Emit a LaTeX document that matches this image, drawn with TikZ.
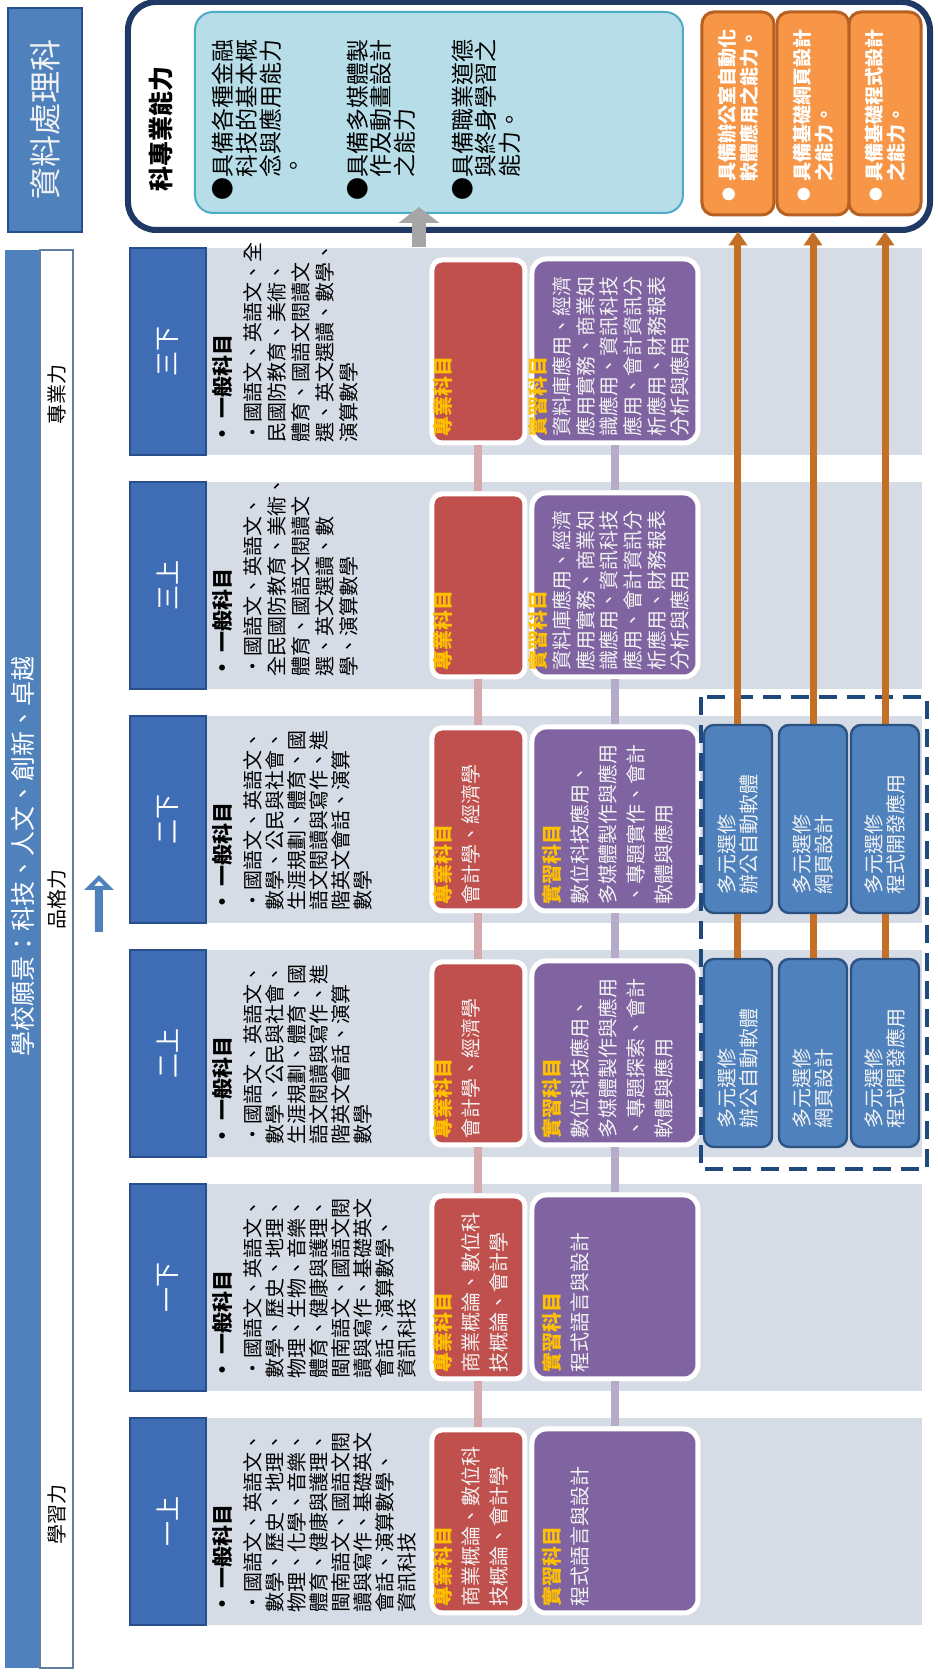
\documentclass[tikz,border=0pt]{standalone}
\usepackage{fontspec}
\setmainfont{Noto Sans CJK TC}
\usetikzlibrary{arrows.meta,shapes.arrows}

\definecolor{tabblue}{RGB}{62,109,181}
\definecolor{tabline}{RGB}{40,78,140}
\definecolor{panelgray}{RGB}{214,220,230}
\definecolor{barblue}{RGB}{79,129,189}
\definecolor{prored}{RGB}{192,80,77}
\definecolor{pracpurple}{RGB}{128,100,162}
\definecolor{gold}{RGB}{255,192,0}
\definecolor{elecblue}{RGB}{79,129,189}
\definecolor{elecline}{RGB}{44,82,130}
\definecolor{dashblue}{RGB}{31,73,125}
\definecolor{skillorange}{RGB}{247,150,70}
\definecolor{skillline}{RGB}{182,97,34}
\definecolor{linkorange}{RGB}{196,111,38}
\definecolor{capfill}{RGB}{183,222,232}
\definecolor{capline}{RGB}{75,172,198}
\definecolor{navy}{RGB}{31,56,100}
\definecolor{pinklink}{RGB}{214,170,172}
\definecolor{purplink}{RGB}{180,172,200}
\definecolor{softwhite}{RGB}{242,242,242}

\begin{document}
\begin{tikzpicture}[x=0.5pt,y=0.5pt,rotate=90,transform shape,
	tab/.style={draw=tabline,fill=tabblue,line width=0.8pt,minimum width=103.5pt,minimum height=38pt,text=white,font=\fontsize{12.5}{14}\selectfont},
	panel/.style={fill=panelgray,minimum width=103.5pt,minimum height=358pt,inner sep=0},
	genhead/.style={anchor=west,inner sep=0,font=\bfseries\fontsize{10.5}{11}\selectfont},
	gen/.style={anchor=north west,inner sep=0,align=left,font=\fontsize{10}{11}\selectfont},
	gentall/.style={gen,font=\fontsize{10}{12}\selectfont},
	probox/.style={fill=prored,draw=white,line width=2.5pt,rounded corners=5pt,minimum width=91.5pt,minimum height=46.5pt},
	pracbox/.style={fill=pracpurple,draw=white,line width=2.5pt,rounded corners=7pt,minimum width=92pt,minimum height=83pt},
	boxtxt/.style={anchor=north west,inner sep=0,align=left,text=softwhite,font=\fontsize{10}{14}\selectfont},
	boxtight/.style={boxtxt,font=\fontsize{10}{11.85}\selectfont},
	prolink/.style={pinklink,line width=4pt},
	praclink/.style={purplink,line width=4pt},
	elec/.style={draw=elecline,fill=elecblue,line width=1.2pt,rounded corners=5pt,minimum width=94pt,minimum height=34pt,text width=76pt,inner xsep=9pt,align=left,text=softwhite,font=\fontsize{10}{11}\selectfont},
	skill/.style={draw=skillline,fill=skillorange,line width=1.5pt,rounded corners=6pt,minimum width=101.5pt,minimum height=36pt,text width=88pt,inner xsep=6.75pt,align=left,text=white,font=\bfseries\fontsize{9.5}{11}\selectfont},
	elink/.style={linkorange,line width=3.5pt}]
	\useasboundingbox (0,0) rectangle (1675,937);

	\node[panel] (p1) at (153.5,373) {};
	\node[panel] (p2) at (387.5,373) {};
	\node[panel] (p3) at (621.5,373) {};
	\node[panel] (p4) at (855.5,373) {};
	\node[panel] (p5) at (1089.5,373) {};
	\node[panel] (p6) at (1323.5,373) {};
	\node[tab] (h1) at (153.5,769) {一上};
	\node[tab] (h2) at (387.5,769) {一下};
	\node[tab] (h3) at (621.5,769) {二上};
	\node[tab] (h4) at (855.5,769) {二下};
	\node[tab] (h5) at (1089.5,769) {三上};
	\node[tab] (h6) at (1323.5,769) {三下};

	\node[genhead] (g1h) at (60,715) {•\ 一般科目};
	\node[genhead] (g2h) at (294,715) {•\ 一般科目};
	\node[genhead] (g3h) at (528,715) {•\ 一般科目};
	\node[genhead] (g4h) at (762,715) {•\ 一般科目};
	\node[genhead] (g5h) at (996,715) {•\ 一般科目};
	\node[genhead] (g6h) at (1230,715) {•\ 一般科目};
	\node[gen] (g1) at (62,694) {•國語文、英語文、\\數學、歷史、地理、\\物理、化學、音樂、\\體育、健康與護理、\\閩南語文、國語文閱\\讀與寫作、基礎英文\\會話、演算數學、\\資訊科技};
	\node[gen] (g2) at (296,694) {•國語文、英語文、\\數學、歷史、地理、\\物理、生物、音樂、\\體育、健康與護理、\\閩南語文、國語文閱\\讀與寫作、基礎英文\\會話、演算數學、\\資訊科技};
	\node[gen] (g3) at (530,694) {•國語文、英語文、\\數學、公民與社會、\\生涯規劃、體育、國\\語文閱讀與寫作、進\\階英文會話、演算\\數學};
	\node[gen] (g4) at (764,694) {•國語文、英語文、\\數學、公民與社會、\\生涯規劃、體育、國\\語文閱讀與寫作、進\\階英文會話、演算\\數學};
	\node[gentall] (g5) at (998,694) {•國語文、英語文、\\全民國防教育、美術、\\體育、國語文閱讀文\\選、英文選讀、數\\學、演算數學};
	\node[gentall] (g6) at (1232,694) {•國語文、英語文、全\\民國防教育、美術、\\體育、國語文閱讀文\\選、英文選讀、數學、\\演算數學};

	\node[probox] (r1) at (153.5,458.5) {};
	\node[probox] (r2) at (387.5,458.5) {};
	\node[probox] (r3) at (621.5,458.5) {};
	\node[probox] (r4) at (855.5,458.5) {};
	\node[probox] (r5) at (1089.5,458.5) {};
	\node[probox] (r6) at (1323.5,458.5) {};
	\node[boxtxt] (r1t) at (68,504) {{\color{gold}\bfseries 專業科目}\\商業概論、數位科\\技概論、會計學};
	\node[boxtxt] (r2t) at (302,504) {{\color{gold}\bfseries 專業科目}\\商業概論、數位科\\技概論、會計學};
	\node[boxtxt] (r3t) at (536,504) {{\color{gold}\bfseries 專業科目}\\會計學、經濟學};
	\node[boxtxt] (r4t) at (770,504) {{\color{gold}\bfseries 專業科目}\\會計學、經濟學};
	\node[boxtxt] (r5t) at (1004,504) {{\color{gold}\bfseries 專業科目}};
	\node[boxtxt] (r6t) at (1238,504) {{\color{gold}\bfseries 專業科目}};

	\node[pracbox] (v1) at (154,322) {};
	\node[pracbox] (v2) at (388,322) {};
	\node[pracbox] (v3) at (622,322) {};
	\node[pracbox] (v4) at (856,322) {};
	\node[pracbox] (v5) at (1090,322) {};
	\node[pracbox] (v6) at (1324,322) {};
	\node[boxtxt] (v1t) at (68,395) {{\color{gold}\bfseries 實習科目}\\程式語言與設計};
	\node[boxtxt] (v2t) at (302,395) {{\color{gold}\bfseries 實習科目}\\程式語言與設計};
	\node[boxtxt] (v3t) at (536,395) {{\color{gold}\bfseries 實習科目}\\數位科技應用、\\多媒體製作與應用\\、專題探索、會計\\軟體與應用};
	\node[boxtxt] (v4t) at (770,395) {{\color{gold}\bfseries 實習科目}\\數位科技應用、\\多媒體製作與應用\\、專題實作、會計\\軟體與應用};
	\node[boxtight] (v5t) at (1004,409) {{\color{gold}\bfseries 實習科目}\\資料庫應用、經濟\\應用實務、商業知\\識應用、資訊科技\\應用、會計資訊分\\析應用、財務報表\\分析與應用};
	\node[boxtight] (v6t) at (1238,409) {{\color{gold}\bfseries 實習科目}\\資料庫應用、經濟\\應用實務、商業知\\識應用、資訊科技\\應用、會計資訊分\\析應用、財務報表\\分析與應用};

	\draw[prolink] (r1) -- (r2);
	\draw[prolink] (r2) -- (r3);
	\draw[prolink] (r3) -- (r4);
	\draw[prolink] (r4) -- (r5);
	\draw[prolink] (r5) -- (r6);
	\draw[praclink] (v1) -- (v2);
	\draw[praclink] (v2) -- (v3);
	\draw[praclink] (v3) -- (v4);
	\draw[praclink] (v4) -- (v5);
	\draw[praclink] (v5) -- (v6);

	\node[draw=dashblue,line width=2pt,dash pattern=on 9pt off 5pt,minimum width=236pt,minimum height=113pt] (multi) at (742,123) {};
	\node[elec] (e1a) at (622,199) {多元選修\\辦公自動軟體};
	\node[elec] (e2a) at (622,124) {多元選修\\網頁設計};
	\node[elec] (e3a) at (622,52) {多元選修\\程式開發應用};
	\node[elec] (e1b) at (856,199) {多元選修\\辦公自動軟體};
	\node[elec] (e2b) at (856,124) {多元選修\\網頁設計};
	\node[elec] (e3b) at (856,52) {多元選修\\程式開發應用};

	\node[draw=navy,line width=3pt,fill=white,rounded corners=14pt,minimum width=114pt,minimum height=401pt] (goal) at (1559,408) {};
	\node[draw=capline,fill=capfill,line width=1pt,rounded corners=9pt,minimum width=100.5pt,minimum height=244pt] (cap) at (1562.5,498) {};
	\node[anchor=west,inner sep=0,font=\bfseries\fontsize{12.5}{14}\selectfont] (caph) at (1483,776) {科專業能力};
	\node[anchor=north west,inner sep=0,align=left,font=\fontsize{11.5}{11.8}\selectfont] (capt) at (1474,725) {●具備各種金融\\\hphantom{●}科技的基本概\\\hphantom{●}念與應用能力\\\hphantom{●}。\\[20pt]●具備多媒體製\\\hphantom{●}作及動畫設計\\\hphantom{●}之能力\\[17pt]●具備職業道德\\\hphantom{●}與終身學習之\\\hphantom{●}能力。};
	\node[skill] (o1) at (1561.5,199) {{\fontsize{7}{7}\selectfont●}\ 具備辦公室自動化\\\hphantom{{\fontsize{7}{7}\selectfont●}\ }軟體應用之能力。};
	\node[skill] (o2) at (1561.5,124) {{\fontsize{7}{7}\selectfont●}\ 具備基礎網頁設計\\\hphantom{{\fontsize{7}{7}\selectfont●}\ }之能力。};
	\node[skill] (o3) at (1561.5,52) {{\fontsize{7}{7}\selectfont●}\ 具備基礎程式設計\\\hphantom{{\fontsize{7}{7}\selectfont●}\ }之能力。};

	\draw[elink] (e1a) -- (e1b);
	\draw[elink] (e2a) -- (e2b);
	\draw[elink] (e3a) -- (e3b);
	\draw[elink,-{Triangle[length=7pt,width=9pt]},shorten >=7.5pt] (e1b) -- (o1);
	\draw[elink,-{Triangle[length=7pt,width=9pt]},shorten >=7.5pt] (e2b) -- (o2);
	\draw[elink,-{Triangle[length=7pt,width=9pt]},shorten >=7.5pt] (e3b) -- (o3);

	\coordinate (up0) at (1428,518);
	\coordinate (up1) at (1468,518);
	\draw[black!35,line width=7pt,-{Triangle[length=8pt,width=20pt]}] (up0) -- (up1);

	\node[fill=barblue,minimum width=709pt,minimum height=17.5pt,inner sep=0] (vbar) at (716,914.5) {};
	\node[draw=barblue!60!gray,line width=0.8pt,fill=white,minimum width=709pt,minimum height=16.5pt,inner sep=0] (vstrip) at (716,880.5) {};
	\node[text=white,inner sep=0,font=\fontsize{12.5}{13}\selectfont] (vision) at (818,914.5) {學校願景：科技、人文、創新、卓越};
	\node[inner sep=0,font=\fontsize{10}{11}\selectfont] (learn) at (160,880.5) {學習力};
	\node[inner sep=0,font=\fontsize{10}{11}\selectfont] (moral) at (775,880.5) {品格力};
	\node[inner sep=0,font=\fontsize{10}{11}\selectfont] (skillp) at (1280,880.5) {專業力};
	\node[single arrow,draw=barblue,line width=2pt,fill=white,minimum height=26pt,minimum width=9pt,single arrow head extend=4pt,inner sep=0] (fwd) at (770,838) {};
	\node[draw=tabline,fill=barblue,line width=1pt,minimum width=112pt,minimum height=37pt,text=softwhite,font=\fontsize{16}{18}\selectfont] (dept) at (1555,892) {資料處理科};
\end{tikzpicture}
\end{document}
